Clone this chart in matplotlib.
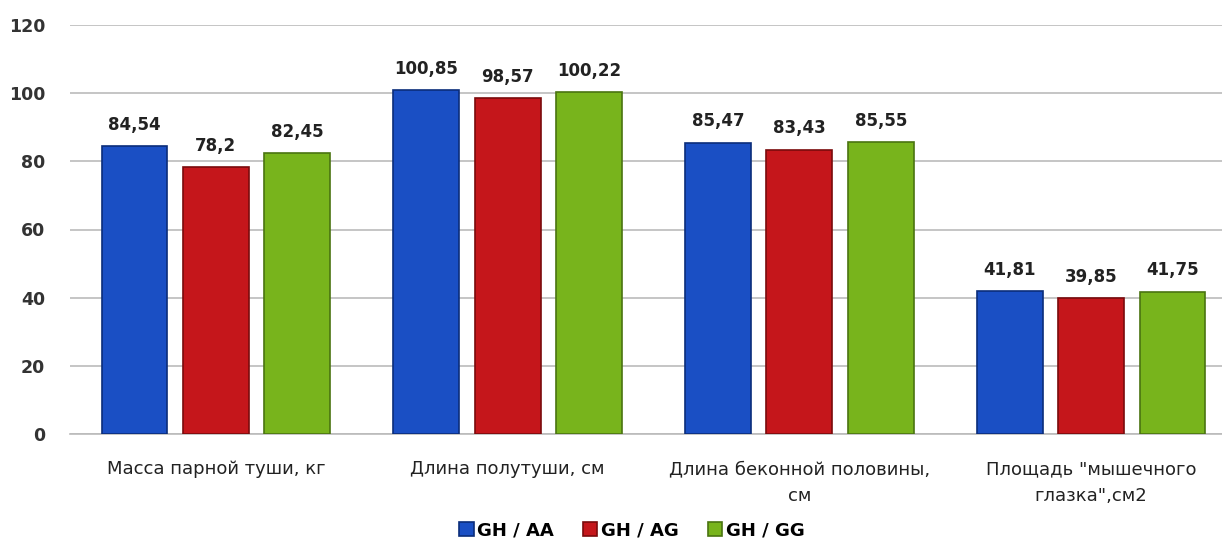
import numpy as np
import matplotlib.pyplot as plt

categories = [
    "Масса парной туши, кг",
    "Длина полутуши, см",
    "Длина беконной половины,\nсм",
    "Площадь \"мышечного\nглазка\",см2",
]
series_names = ["GH / AA", "GH / AG", "GH / GG"]
aa = [84.54, 100.85, 85.47, 41.81]
ag = [78.2, 98.57, 83.43, 39.85]
gg = [82.45, 100.22, 85.55, 41.75]
labels_aa = ["84,54", "100,85", "85,47", "41,81"]
labels_ag = ["78,2", "98,57", "83,43", "39,85"]
labels_gg = ["82,45", "100,22", "85,55", "41,75"]

colors = ["#1a4fc4", "#c5161b", "#78b41c"]
edges = ["#0b2d7a", "#7a0a0c", "#4a7410"]

fig = plt.figure(figsize=(12.22, 5.42), dpi=100)
ax = fig.add_axes([70 / 1222, 108 / 542, 1152 / 1222, 409 / 542])

x = np.arange(len(categories))
width = 0.226
step = 0.279
values = [aa, ag, gg]
texts = [labels_aa, labels_ag, labels_gg]

for i, (vals, labs) in enumerate(zip(values, texts)):
    pos = x + (i - 1) * step
    bars = ax.bar(pos, vals, width, color=colors[i], edgecolor=edges[i],
                  linewidth=1.2, label=series_names[i], zorder=3)
    for b, lab in zip(bars, labs):
        ax.text(b.get_x() + b.get_width() / 2, b.get_height() + 3.6, lab,
                ha="center", va="bottom", fontsize=12, fontweight="bold",
                color="#222222")

ax.set_xlim(-0.5, 3.5 - 15 / 292)
ax.set_ylim(0, 120)
ax.set_yticks(range(0, 121, 20))
ax.yaxis.grid(True, color="#bbbbbb", linewidth=1.2, zorder=0)
ax.set_xticks(x)
ax.set_xticklabels(categories, fontsize=13, color="#222222", va="top",
                   linespacing=1.6)
ax.tick_params(axis="x", length=0, pad=19)
ax.tick_params(axis="y", length=0, pad=18, labelsize=12.5)
for t in ax.get_yticklabels():
    t.set_fontweight("bold")
    t.set_color("#333333")

for s in ["top", "right", "left"]:
    ax.spines[s].set_visible(False)
ax.spines["bottom"].set_color("#bbbbbb")
ax.spines["bottom"].set_linewidth(1.2)

fig.legend(loc="lower center", bbox_to_anchor=(0.517, -0.025), ncol=3,
           frameon=False, handlelength=0.8, handleheight=0.8,
           handletextpad=0.2, columnspacing=1.6,
           prop={"weight": "semibold", "size": 13})

fig.savefig("out.png", dpi=100)
